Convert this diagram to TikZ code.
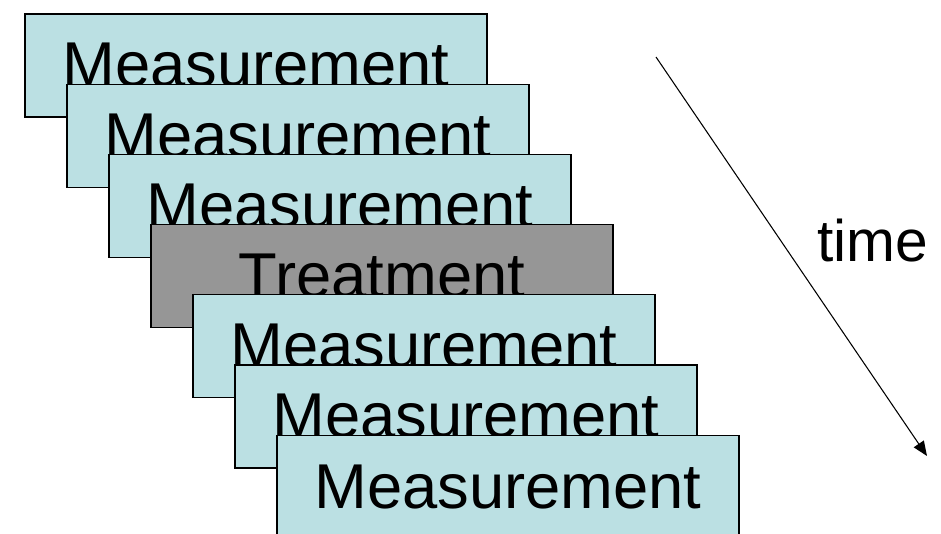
\documentclass[tikz,border=0pt]{standalone}
\usepackage{fontspec}
\setmainfont{Liberation Sans}
\usepackage{tikz}
\usetikzlibrary{arrows.meta}

\definecolor{measblue}{RGB}{187,224,227}
\definecolor{treatgray}{RGB}{150,150,150}

\begin{document}
\begin{tikzpicture}[x=0.75pt,y=-0.75pt,
  measure/.style={shape=rectangle,draw=black,line width=1pt,fill=measblue,
    minimum width=346.5pt,minimum height=77.25pt,inner sep=0pt,
    font=\fontsize{47.5}{50}\selectfont},
  treat/.style={measure,fill=treatgray},
  timelabel/.style={font=\fontsize{44}{48}\selectfont,inner sep=0pt}]

\clip (0,0) rectangle (941,534);

\node[measure] (M1) at (256,65.5) {Measurement};
\node[measure] (M2) at (298,135.7) {Measurement};
\node[measure] (M3) at (340,205.9) {Measurement};
\node[treat] (T) at (382,276.1) {Treatment};
\node[measure] (M4) at (424,346.3) {Measurement};
\node[measure] (M5) at (466,416.5) {Measurement};
\node[measure] (M6) at (508,486.7) {Measurement};

% time axis
\coordinate (t0) at (656,57);
\coordinate (t1) at (927,456);
\path [-{Triangle[length=11pt,width=9pt]},line width=0.8pt] (t0) edge (t1);
\node[timelabel,anchor=base west] (time) at (817,262) {time};

\end{tikzpicture}
\end{document}
